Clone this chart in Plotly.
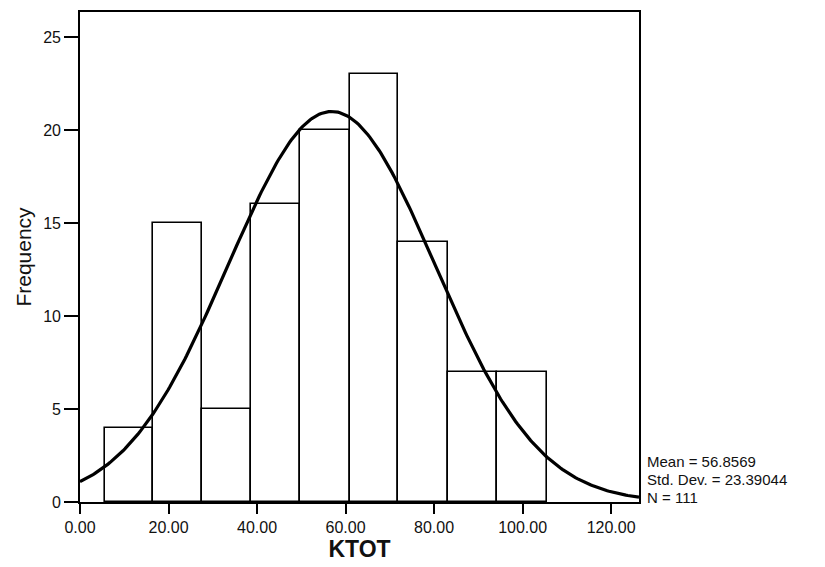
import numpy as np
import plotly.graph_objects as go

# Histogram data
bin_edges = [5.6, 16.6, 27.6, 38.7, 49.7, 60.9, 71.9, 83.1, 94.2, 105.4]
counts = [4, 15, 5, 16, 20, 23, 14, 7, 7]
mean_val = 56.8569
std_val = 23.39044
n_val = 111
x_ticks = [0, 20, 40, 60, 80, 100, 120]
y_ticks = [0, 5, 10, 15, 20, 25]
stat_lines = [f"Mean = {mean_val}", f"Std. Dev. = {std_val}", f"N = {n_val}"]

centers = [(a + b) / 2 for a, b in zip(bin_edges[:-1], bin_edges[1:])]
widths = [b - a for a, b in zip(bin_edges[:-1], bin_edges[1:])]
bw = float(np.mean(widths))

xmax = 126.3
xs = np.linspace(0, xmax, 300)
ys = n_val * bw / (std_val * np.sqrt(2 * np.pi)) * np.exp(-0.5 * ((xs - mean_val) / std_val) ** 2)

fig = go.Figure()
fig.add_trace(go.Bar(
    x=centers, y=counts, width=widths,
    marker=dict(color="white", line=dict(color="black", width=1.6)),
    showlegend=False, hoverinfo="skip",
))
fig.add_trace(go.Scatter(
    x=xs, y=ys, mode="lines",
    line=dict(color="black", width=3.2),
    showlegend=False, hoverinfo="skip",
))

plot_h = 567 - 10 - 65
line_px = [461, 479, 497]
annotations = [
    dict(xref="paper", yref="paper", x=1.01, y=(502 - py) / plot_h,
         xanchor="left", yanchor="middle", align="left", showarrow=False,
         text=t, font=dict(size=15, color="#111"))
    for t, py in zip(stat_lines, line_px)
]

fig.update_layout(
    width=825, height=567,
    margin=dict(l=80, r=186, t=10, b=65),
    paper_bgcolor="white", plot_bgcolor="white",
    font=dict(family="Liberation Sans, Arial, sans-serif", color="#111", size=16),
    bargap=0,
    annotations=annotations,
)
fig.update_xaxes(
    range=[0, xmax], tickvals=x_ticks, tickformat=".2f",
    ticks="outside", ticklen=10, tickwidth=1.6, tickcolor="black",
    showline=True, linecolor="black", linewidth=1.6, mirror=True,
    showgrid=False, zeroline=False,
    title=dict(text="<b>KTOT</b>", font=dict(size=23), standoff=4),
    tickfont=dict(size=16),
)
fig.update_yaxes(
    range=[0, 26.34], tickvals=y_ticks,
    ticks="outside", ticklen=14, tickwidth=1.6, tickcolor="black",
    showline=True, linecolor="black", linewidth=1.6, mirror=True,
    showgrid=False, zeroline=False,
    title=dict(text="Frequency", font=dict(size=21), standoff=6),
    tickfont=dict(size=16),
)

fig.write_html("out.html")
